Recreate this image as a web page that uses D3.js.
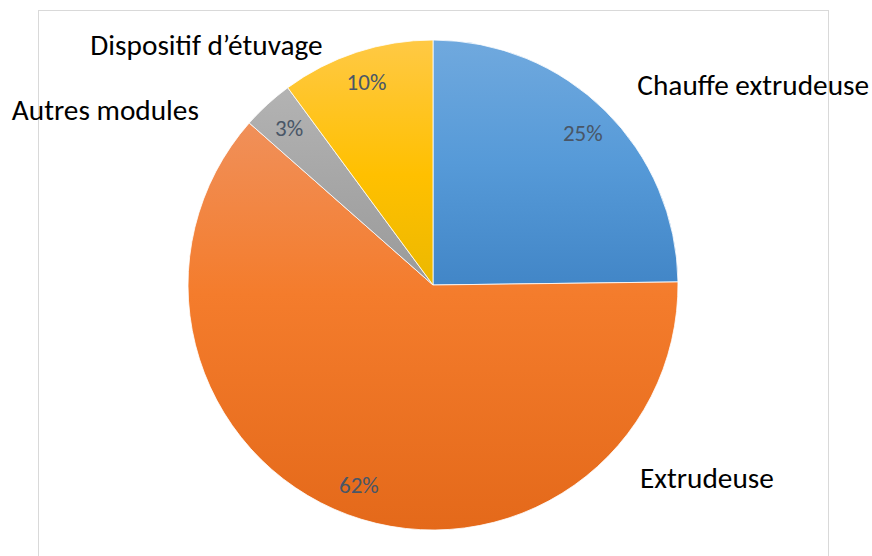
<!DOCTYPE html>
<html><head><meta charset="utf-8">
<script src="https://cdn.jsdelivr.net/npm/d3@7"></script>
<style>
html,body{margin:0;padding:0;background:#fff;}
svg{display:block;}
text{font-family:Carlito,Lato,"Liberation Sans",sans-serif;}
</style></head>
<body>
<svg id="chart" width="872" height="556"></svg>
<script>
// Data
const categories = ["Chauffe extrudeuse", "Extrudeuse", "Autres modules", "Dispositif d\u2019étuvage"];
const values = [24.8, 61.7, 3.4, 10.1];
const percentLabels = ["25%", "62%", "3%", "10%"];

// Styles / layout
const gradStops = [
  [[0, "#70a9de"], [0.5, "#569ad8"], [1, "#4286c7"]],
  [[0, "#f0905a"], [0.42, "#f47c2c"], [1, "#e4691a"]],
  [[0, "#b3b3b3"], [0.5, "#a6a6a6"], [1, "#9a9a9a"]],
  [[0, "#ffc945"], [0.55, "#ffc000"], [1, "#ecb800"]]
];
// category label anchors: polar offsets (degrees clockwise from top, distance) and text anchor
const catLabelLayout = [
  {a: 45.6, d: 286, anchor: "start"},
  {a: 133, d: 283, anchor: "start"},
  {a: -53.3, d: 292, anchor: "end"},
  {a: -24.7, d: 264, anchor: "end"}
];

const W = 872, H = 556;
const cx = 433, cy = 285, R = 245;
const svg = d3.select("#chart");

// chart border
svg.append("rect").attr("x", 38.5).attr("y", 10.5).attr("width", 790).attr("height", 560)
  .attr("fill", "none").attr("stroke", "#d9d9d9").attr("stroke-width", 1);

const defs = svg.append("defs");
categories.forEach((c, i) => {
  const g = defs.append("linearGradient").attr("id", "grad" + i)
    .attr("x1", 0).attr("y1", 0).attr("x2", 0).attr("y2", 1);
  gradStops[i].forEach(s => g.append("stop").attr("offset", s[0]).attr("stop-color", s[1]));
});

const pie = d3.pie().sort(null).value(d => d.v);
const data = categories.map((c, i) => ({c, v: values[i], i}));
const arcs = pie(data);
const arc = d3.arc().innerRadius(0).outerRadius(R);
const labelArc = d3.arc().innerRadius(R * 0.87).outerRadius(R * 0.87);

const g = svg.append("g").attr("transform", `translate(${cx},${cy})`);
g.selectAll("path.slice").data(arcs).enter().append("path")
  .attr("class", "slice")
  .attr("d", arc)
  .attr("fill", d => `url(#grad${d.data.i})`)
  .attr("stroke", "#ffffff").attr("stroke-width", 0.8);

g.selectAll("text.pct").data(arcs).enter().append("text")
  .attr("class", "pct")
  .attr("transform", d => `translate(${labelArc.centroid(d)})`)
  .attr("text-anchor", "middle").attr("dominant-baseline", "central")
  .attr("font-size", 23).attr("fill", "#495667")
  .text(d => percentLabels[d.data.i]);

g.selectAll("text.cat").data(arcs).enter().append("text")
  .attr("class", "cat")
  .attr("transform", d => {
    const L = catLabelLayout[d.data.i];
    const p = d3.pointRadial(L.a * Math.PI / 180, L.d);
    return `translate(${p})`;
  })
  .attr("text-anchor", d => catLabelLayout[d.data.i].anchor)
  .attr("dominant-baseline", "central")
  .attr("font-size", 29.3).attr("fill", "#000")
  .text(d => d.data.c);
</script>
</body></html>
